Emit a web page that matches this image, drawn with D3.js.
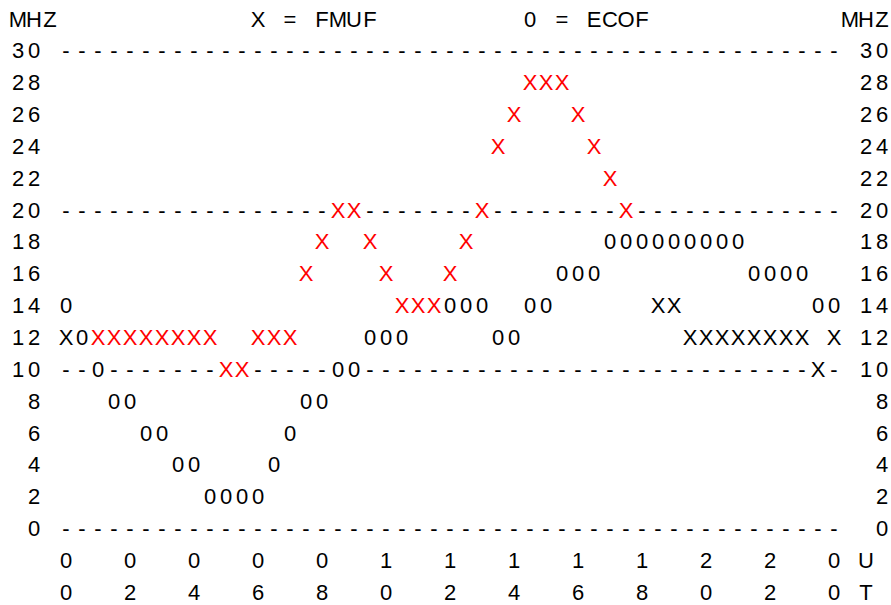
<!DOCTYPE html>
<html>
<head>
<meta charset="utf-8">
<script src="https://cdn.jsdelivr.net/npm/d3@7"></script>
<style>
  html, body { margin: 0; padding: 0; background: #fff; }
  svg text { font-family: "Liberation Sans", Arial, Helvetica, sans-serif; font-size: 22px; }
</style>
</head>
<body>
<svg id="chart" width="891" height="605"></svg>
<script>
// ---- data (half-hourly, UT hours) ----
const hours = [0,0.5,1,1.5,2,2.5,3,3.5,4,4.5,5,5.5,6,6.5,7,7.5,8,8.5,9,9.5,10,10.5,11,11.5,12,
               12.5,13,13.5,14,14.5,15,15.5,16,16.5,17,17.5,18,18.5,19,19.5,20,20.5,21,21.5,22,22.5,23,23.5,24];
const fmuf  = [12,12,12,12,12,12,12,12,12,12,10,10,12,12,12,16,18,20,20,18,16,14,14,14,16,
               18,20,24,26,28,28,28,26,24,22,20,18,14,14,12,12,12,12,12,12,12,12,10,12];
const ecof  = [14,12,10,8,8,6,6,4,4,2,2,2,2,4,6,8,8,10,10,12,12,12,14,14,14,
               14,14,12,12,14,14,16,16,16,18,18,18,18,18,18,18,18,18,16,16,16,16,14,14];
const highlightRange = [1, 17.5];          // FMUF hours drawn in red
const mhzTicks = [30,28,26,24,22,20,18,16,14,12,10,8,6,4,2,0];
const gridMhz = [30,20,10,0];
const utTicks = [0,2,4,6,8,10,12,14,16,18,20,22,24];
const utLabels = ["00","02","04","06","08","10","12","14","16","18","20","22","00"];
const title = { left: "MHZ", fmuf: "X = FMUF", ecof: "0 = ECOF", right: "MHZ" };

// ---- layout ----
const svg = d3.select("#chart");
const col = c => 18 + 16 * c;                       // character cell centre
const x = d3.scaleLinear().domain([0, 24]).range([col(3), col(51)]);
const y = d3.scaleLinear().domain([32, -4]).range([26.5, 599.8]);   // text baselines

function putChars(str, startCol, yy, color) {
  const g = svg.append("g");
  [...str].forEach((ch, i) => {
    if (ch === " ") return;
    g.append("text").attr("x", col(startCol + i)).attr("y", yy)
      .attr("text-anchor", "middle").attr("fill", color || "#000").text(ch);
  });
}

// header
putChars(title.left, 0, y(32));
putChars(title.fmuf, 15, y(32));
putChars(title.ecof, 32, y(32));
putChars(title.right, 52, y(32));

// y labels both sides
mhzTicks.forEach(m => {
  const s = String(m).padStart(2, " ");
  putChars(s, 0, y(m));
  putChars(s, 53, y(m));
});

// marks: layered black X, then 0, then red X on top
const cells = new Map();
const key = (h, m) => h + "|" + m;
hours.forEach((h, i) => {
  const red = h >= highlightRange[0] && h <= highlightRange[1];
  if (!red) cells.set(key(h, fmuf[i]), { h, m: fmuf[i], ch: "X", color: "#000" });
});
hours.forEach((h, i) => cells.set(key(h, ecof[i]), { h, m: ecof[i], ch: "0", color: "#000" }));
hours.forEach((h, i) => {
  const red = h >= highlightRange[0] && h <= highlightRange[1];
  if (red) cells.set(key(h, fmuf[i]), { h, m: fmuf[i], ch: "X", color: "#ff0000" });
});

// dashed grid rows (skipping occupied cells)
const dashes = [];
gridMhz.forEach(m => hours.forEach(h => { if (!cells.has(key(h, m))) dashes.push({ h, m }); }));
svg.append("g").selectAll("text").data(dashes).join("text")
  .attr("x", d => x(d.h)).attr("y", d => y(d.m))
  .attr("text-anchor", "middle").attr("fill", "#000").text("-");

svg.append("g").selectAll("text").data([...cells.values()]).join("text")
  .attr("x", d => x(d.h)).attr("y", d => y(d.m))
  .attr("text-anchor", "middle").attr("fill", d => d.color).text(d => d.ch);

// x axis labels (two lines)
const xa = svg.append("g");
utTicks.forEach((t, i) => {
  xa.append("text").attr("x", x(t)).attr("y", y(-2)).attr("text-anchor", "middle").text(utLabels[i][0]);
  xa.append("text").attr("x", x(t)).attr("y", y(-4)).attr("text-anchor", "middle").text(utLabels[i][1]);
});
putChars("U", 53, y(-2));
putChars("T", 53, y(-4));
</script>
</body>
</html>
